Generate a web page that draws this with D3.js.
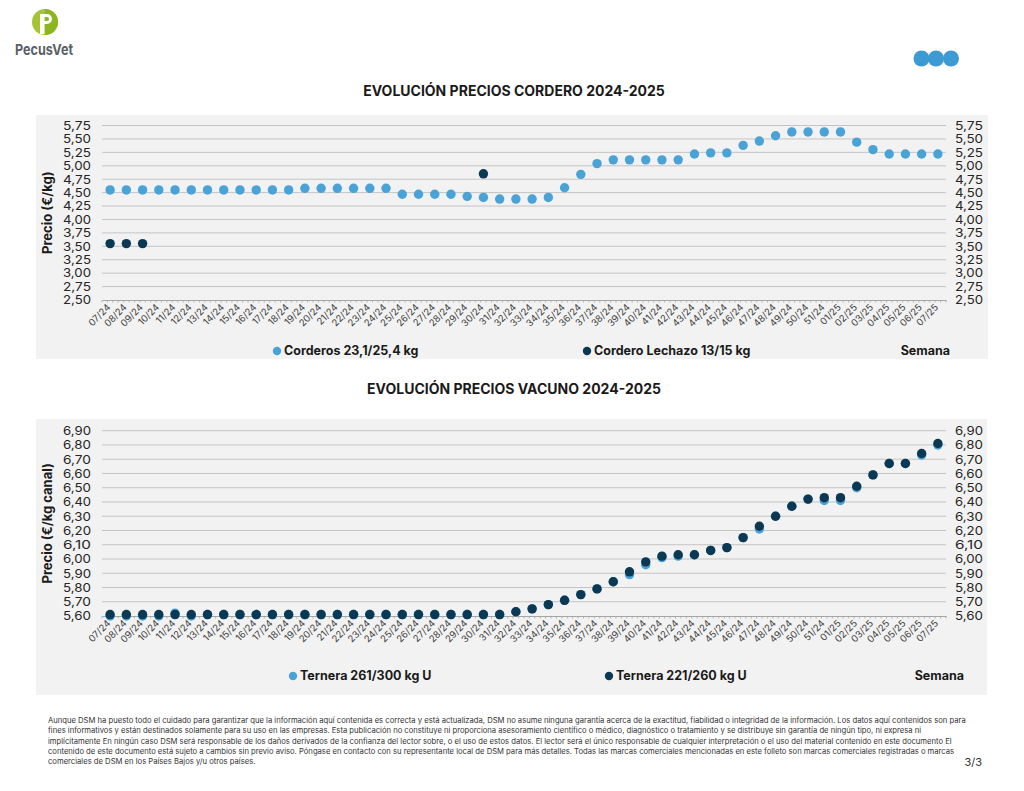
<!DOCTYPE html>
<html>
<head>
<meta charset="utf-8">
<script src="https://cdn.jsdelivr.net/npm/d3@7"></script>
<style>
  html, body { margin: 0; padding: 0; background: #ffffff; }
  svg { display: block; }
  text { font-family: Inter, "DejaVu Sans", sans-serif; }
</style>
</head>
<body>
<svg id="chart" width="1024" height="791"></svg>
<script>
// ---------- DATA ----------
const weeks = ["07/24","08/24","09/24","10/24","11/24","12/24","13/24","14/24","15/24","16/24","17/24","18/24","19/24","20/24","21/24","22/24","23/24","24/24","25/24","26/24","27/24","28/24","29/24","30/24","31/24","32/24","33/24","34/24","35/24","36/24","37/24","38/24","39/24","40/24","41/24","42/24","43/24","44/24","45/24","46/24","47/24","48/24","49/24","50/24","51/24","01/25","02/25","03/25","04/25","05/25","06/25","07/25"];

const corderos = [4.55,4.55,4.55,4.55,4.55,4.55,4.55,4.55,4.55,4.55,4.55,4.55,4.58,4.58,4.58,4.58,4.58,4.58,4.47,4.47,4.47,4.47,4.43,4.41,4.38,4.38,4.38,4.41,4.59,4.84,5.04,5.11,5.11,5.11,5.11,5.11,5.22,5.24,5.24,5.38,5.46,5.56,5.63,5.63,5.63,5.63,5.44,5.30,5.22,5.22,5.22,5.22];
const lechazo = [3.55,3.55,3.55,null,null,null,null,null,null,null,null,null,null,null,null,null,null,null,null,null,null,null,null,4.85,null,null,null,null,null,null,null,null,null,null,null,null,null,null,null,null,null,null,null,null,null,null,null,null,null,null,null,null];

const ternera261 = [5.60,5.60,5.60,5.60,5.62,5.60,5.61,5.61,5.61,5.61,5.61,5.61,5.61,5.61,5.61,5.61,5.61,5.61,5.61,5.61,5.61,5.61,5.61,5.61,5.61,5.63,5.65,5.68,5.71,5.75,5.79,5.84,5.89,5.96,6.01,6.02,6.03,6.06,6.08,6.15,6.21,6.30,6.37,6.42,6.41,6.41,6.50,6.59,6.67,6.67,6.73,6.80];
const ternera221 = [5.61,5.61,5.61,5.61,5.61,5.61,5.61,5.61,5.61,5.61,5.61,5.61,5.61,5.61,5.61,5.61,5.61,5.61,5.61,5.61,5.61,5.61,5.61,5.61,5.61,5.63,5.65,5.68,5.71,5.75,5.79,5.84,5.91,5.98,6.02,6.03,6.03,6.06,6.08,6.15,6.23,6.30,6.37,6.42,6.43,6.43,6.51,6.59,6.67,6.67,6.74,6.81];

const ticksCordero = [2.50,2.75,3.00,3.25,3.50,3.75,4.00,4.25,4.50,4.75,5.00,5.25,5.50,5.75];
const ticksVacuno = [5.60,5.70,5.80,5.90,6.00,6.10,6.20,6.30,6.40,6.50,6.60,6.70,6.80,6.90];

const titleCordero = "EVOLUCIÓN PRECIOS CORDERO 2024-2025";
const titleVacuno = "EVOLUCIÓN PRECIOS VACUNO 2024-2025";
const seriesCordero = ["Corderos 23,1/25,4 kg", "Cordero Lechazo 13/15 kg"];
const seriesVacuno = ["Ternera 261/300 kg U", "Ternera 221/260 kg U"];

const footer = [
 "Aunque DSM ha puesto todo el cuidado para garantizar que la información aquí contenida es correcta y está actualizada, DSM no asume ninguna garantía acerca de la exactitud, fiabilidad o integridad de la información. Los datos aquí contenidos son para",
 "fines informativos y están destinados solamente para su uso en las empresas. Esta publicación no constituye ni proporciona asesoramiento científico o médico, diagnóstico o tratamiento y se distribuye sin garantía de ningún tipo, ni expresa ni",
 "implícitamente En ningún caso DSM será responsable de los daños derivados de la confianza del lector sobre, o el uso de estos datos. El lector será el único responsable de cualquier interpretación o el uso del material contenido en este documento El",
 "contenido de este documento está sujeto a cambios sin previo aviso. Póngase en contacto con su representante local de DSM para más detalles. Todas las marcas comerciales mencionadas en este folleto son marcas comerciales registradas o marcas",
 "comerciales de DSM en los Países Bajos y/u otros países."
];

// ---------- STYLE ----------
const LIGHT = "#4aa3d6";
const DARK = "#0b3954";
const PANEL = "#f2f2f2";
const GRID = "#c4c4c4";
const TXT = "#262626";
const fmt = (d, dec) => d.toFixed(dec).replace(".", ",");

const svg = d3.select("#chart");

// ---------- HEADER ----------
const logo = svg.append("g");
logo.append("circle").attr("cx", 45).attr("cy", 22).attr("r", 13).attr("fill", "#a4c431");
logo.append("path").attr("d", "M45,9 A13,13 0 0,1 45,35 Z").attr("fill", "#8db51f");
logo.append("rect").attr("x", 40).attr("y", 14).attr("width", 4.5).attr("height", 20).attr("fill", "#fff");
logo.append("path").attr("d", "M42,14 h5 a5,5 0 0 1 0,10 h-5 v-3 h5 a2,2 0 0 0 0,-4 h-5 Z").attr("fill", "#fff");
logo.append("text").attr("x", 44).attr("y", 55).attr("text-anchor", "middle")
  .attr("font-family", "'Liberation Sans Narrow', 'DejaVu Sans Condensed', sans-serif")
  .attr("font-weight", 700).attr("font-size", 15).attr("fill", "#5a5f66")
  .attr("textLength", 58).attr("lengthAdjust", "spacingAndGlyphs").text("PecusVet");

[921.5, 936, 951].forEach(cx => {
  svg.append("circle").attr("cx", cx).attr("cy", 58.5).attr("r", 8).attr("fill", "#3d9ad3");
});

// ---------- CHART BUILDER ----------
function drawChart(cfg) {
  const g = svg.append("g");
  g.append("rect").attr("x", cfg.panel[0]).attr("y", cfg.panel[1])
    .attr("width", cfg.panel[2]).attr("height", cfg.panel[3]).attr("fill", PANEL);

  g.append("text").attr("x", 514).attr("y", cfg.titleY).attr("text-anchor", "middle")
    .attr("font-size", 14).attr("font-weight", 700).attr("fill", "#1a1a1a").text(cfg.title);

  const x = d3.scaleBand().domain(weeks).range([102, 946]).paddingInner(0).paddingOuter(0);
  const y = d3.scaleLinear().domain(cfg.domain).range(cfg.yRange);

  // gridlines
  g.append("g").selectAll("line").data(cfg.ticks.slice(1)).join("line")
    .attr("x1", 102).attr("x2", 946)
    .attr("y1", d => y(d)).attr("y2", d => y(d))
    .attr("stroke", GRID).attr("stroke-width", 1);

  // left axis
  const yl = g.append("g").attr("transform", "translate(91,0)")
    .call(d3.axisLeft(y).tickValues(cfg.ticks).tickSize(0).tickPadding(0).tickFormat(d => fmt(d, 2)));
  yl.select(".domain").remove();
  yl.selectAll("text").attr("font-size", 12).attr("fill", TXT).attr("font-family", "Inter, sans-serif")
    .attr("textLength", 28).attr("lengthAdjust", "spacingAndGlyphs");

  // right axis
  const yr = g.append("g").attr("transform", "translate(955,0)")
    .call(d3.axisRight(y).tickValues(cfg.ticks).tickSize(0).tickPadding(0).tickFormat(d => fmt(d, 2)));
  yr.select(".domain").remove();
  yr.selectAll("text").attr("font-size", 12).attr("fill", TXT).attr("font-family", "Inter, sans-serif")
    .attr("textLength", 28).attr("lengthAdjust", "spacingAndGlyphs");

  // bottom axis
  const baseY = y(cfg.domain[0]);
  const xa = g.append("g").attr("transform", `translate(0,${baseY})`)
    .call(d3.axisBottom(x).tickSize(0).tickPadding(0));
  xa.select(".domain").attr("stroke", "#a6a6a6");
  xa.selectAll("text")
    .attr("font-size", 9.5).attr("fill", "#404040").attr("font-family", "Inter, sans-serif")
    .attr("text-anchor", "end").attr("dy", 0)
    .attr("transform", "translate(1,8) rotate(-45)");
  // minor ticks (3 per category)
  const minor = d3.range(0, weeks.length * 3 + 1).map(i => 102 + i * x.bandwidth() / 3);
  g.append("g").selectAll("line").data(minor).join("line")
    .attr("x1", d => d).attr("x2", d => d).attr("y1", baseY).attr("y2", baseY + 2.5)
    .attr("stroke", "#a6a6a6").attr("stroke-width", 0.8);

  // y title
  g.append("text").attr("transform", `translate(${cfg.yTitleX},${(cfg.yRange[0] + cfg.yRange[1]) / 2}) rotate(-90)`)
    .attr("text-anchor", "middle").attr("dy", "0.35em").attr("font-size", 13).attr("font-weight", 700)
    .attr("fill", "#1a1a1a").text(cfg.yTitle);

  // series
  cfg.series.forEach(s => {
    g.append("g").selectAll("circle")
      .data(weeks.map((w, i) => ({ w, v: s.values[i] })).filter(d => d.v != null))
      .join("circle")
      .attr("cx", d => x(d.w) + x.bandwidth() / 2)
      .attr("cy", d => y(d.v))
      .attr("r", cfg.r).attr("fill", s.color);
  });

  // legend
  cfg.legend.forEach(l => {
    g.append("circle").attr("cx", l.x).attr("cy", cfg.legendY - 4).attr("r", 4.2).attr("fill", l.color);
    g.append("text").attr("x", l.x + 7).attr("y", cfg.legendY).attr("font-size", 12.5).attr("font-weight", 700)
      .attr("fill", "#1a1a1a").text(l.label);
  });
  g.append("text").attr("x", cfg.semanaX).attr("y", cfg.legendY).attr("text-anchor", "end")
    .attr("font-size", 12.5).attr("font-weight", 700).attr("fill", "#1a1a1a").text("Semana");
}

drawChart({
  panel: [36, 115, 952, 244],
  title: titleCordero, titleY: 96,
  domain: [2.50, 5.75], yRange: [300, 125.5], ticks: ticksCordero,
  yTitle: "Precio (€/kg)", yTitleX: 47,
  r: 4.7,
  series: [
    { values: corderos, color: LIGHT },
    { values: lechazo, color: DARK }
  ],
  legendY: 355,
  legend: [
    { x: 277, color: LIGHT, label: seriesCordero[0] },
    { x: 587, color: DARK, label: seriesCordero[1] }
  ],
  semanaX: 950
});

drawChart({
  panel: [36, 419, 951, 276],
  title: titleVacuno, titleY: 394,
  domain: [5.60, 6.90], yRange: [616, 430.7], ticks: ticksVacuno,
  yTitle: "Precio (€/kg canal)", yTitleX: 47,
  r: 4.7,
  series: [
    { values: ternera261, color: LIGHT },
    { values: ternera221, color: DARK }
  ],
  legendY: 680,
  legend: [
    { x: 293, color: LIGHT, label: seriesVacuno[0] },
    { x: 609, color: DARK, label: seriesVacuno[1] }
  ],
  semanaX: 964
});

// ---------- FOOTER ----------
const ft = svg.append("g");
const lines = footer.map((line, i) => ft.append("text").attr("x", 48).attr("y", 723 + i * 10.3)
    .attr("font-size", 7.3).attr("fill", "#333").text(line));
const w0 = lines[0].node().getComputedTextLength();
const fs = 7.3 * 919 / w0;
lines.forEach(t => t.attr("font-size", fs));
svg.append("text").attr("x", 982).attr("y", 766).attr("text-anchor", "end")
  .attr("font-size", 11).attr("fill", "#333").text("3/3");
</script>
</body>
</html>
